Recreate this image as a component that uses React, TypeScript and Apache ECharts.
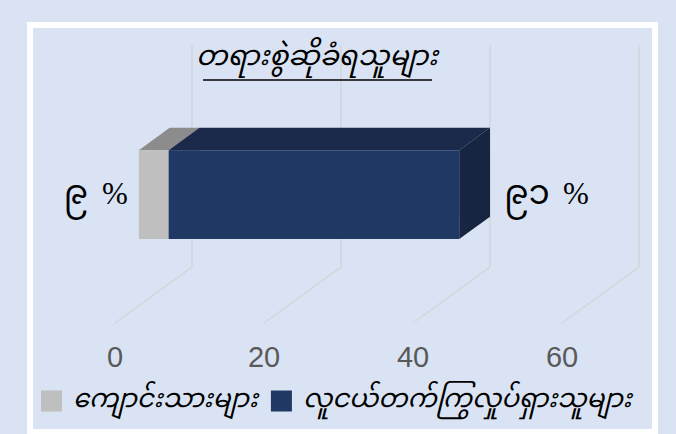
import React, { useEffect, useRef } from 'react';
import * as echarts from 'echarts';

// ---- data ----
const titleText = 'တရားစွဲဆိုခံရသူများ';
const seriesNames = ['ကျောင်းသားများ', 'လူငယ်တက်ကြွလှုပ်ရှားသူများ'];
const seriesValues = [4, 39];
const xTicks = [0, 20, 40, 60];

// ---- style ----
const frontColors = ['#bfbfbf', '#203864'];
const topColors = ['#8c8c8c', '#1b2a4a'];
const sideColors = ['#a6a6a6', '#172541'];
const MY_FONT = '"Noto Sans Myanmar", "Padauk", "Myanmar Text", "Noto Sans", sans-serif';

const MY_DIGITS = '၀၁၂၃၄၅၆၇၈၉';
const toMy = (n: number) => String(n).replace(/\d/g, (d) => MY_DIGITS[+d]);

const DEPTH = [77, -56];
const BAR_FRONT = 0.31;
const BAR_BACK = 0.71;
const BAR_RATIO = 0.4;

export default function App() {
  const ref = useRef<HTMLDivElement>(null);
  useEffect(() => {
    const chart = echarts.init(ref.current!, undefined, { renderer: 'svg' });
    const total = seriesValues.reduce((a, b) => a + b, 0);
    const percents = seriesValues.map((v) => Math.round((v / total) * 100));
    const starts: number[] = [];
    let acc = 0;
    seriesValues.forEach((v) => {
      starts.push(acc);
      acc += v;
    });

    const gridSeries = {
      type: 'custom',
      name: '__grid',
      silent: true,
      coordinateSystem: 'cartesian2d',
      data: xTicks.map((t) => [t, 0]),
      encode: { x: 0, y: 1 },
      z: 1,
      renderItem: (params: any, api: any) => {
        const cs = params.coordSys;
        const x = api.coord([api.value(0), 0])[0];
        const yf = cs.y + cs.height;
        const yTop = cs.y + DEPTH[1];
        return {
          type: 'polyline',
          shape: {
            points: [
              [x, yf],
              [x + DEPTH[0], yf + DEPTH[1]],
              [x + DEPTH[0], yTop],
            ],
          },
          style: { stroke: '#d4d6d9', lineWidth: 1.5, fill: 'none' },
        };
      },
    };

    const barSeries = seriesNames.map((name, i) => ({
      type: 'custom',
      name,
      coordinateSystem: 'cartesian2d',
      data: [[starts[i], starts[i] + seriesValues[i], 0, percents[i]]],
      encode: { x: [0, 1], y: 2 },
      itemStyle: { color: frontColors[i] },
      z: 2 + i,
      renderItem: (params: any, api: any) => {
        const s = api.coord([api.value(0), 0]);
        const e = api.coord([api.value(1), 0]);
        const band = api.size([0, 1])[1];
        const h = band * BAR_RATIO;
        const fdx = DEPTH[0] * BAR_FRONT;
        const fdy = DEPTH[1] * BAR_FRONT;
        const bdx = DEPTH[0] * BAR_BACK;
        const bdy = DEPTH[1] * BAR_BACK;
        const x0 = s[0] + fdx;
        const x1 = e[0] + fdx;
        const yc = s[1] + fdy;
        const yt = yc - h / 2;
        const yb = yc + h / 2;
        const ddx = bdx - fdx;
        const ddy = bdy - fdy;
        const children: any[] = [
          {
            type: 'polygon',
            shape: { points: [[x1, yt], [x1 + ddx, yt + ddy], [x1 + ddx, yb + ddy], [x1, yb]] },
            style: { fill: sideColors[i] },
          },
          {
            type: 'polygon',
            shape: { points: [[x0, yt], [x1, yt], [x1 + ddx, yt + ddy], [x0 + ddx, yt + ddy]] },
            style: { fill: topColors[i] },
          },
          {
            type: 'rect',
            shape: { x: x0, y: yt, width: x1 - x0, height: h },
            style: { fill: frontColors[i] },
          },
        ];
        const pct = api.value(3);
        const numText = toMy(pct);
        const numStyle = { font: `34px ${MY_FONT}`, fill: '#000' };
        const pctStyle = { font: '31px "Liberation Serif", "Times New Roman", serif', fill: '#000' };
        if (i === 0) {
          children.push(
            {
              type: 'text',
              style: { ...pctStyle, text: '%', x: x0 - 11, y: yc - 1, align: 'right', verticalAlign: 'middle' },
            },
            {
              type: 'text',
              style: { ...numStyle, text: numText, x: x0 - 11 - 40, y: yc + 1, align: 'right', verticalAlign: 'middle' },
            }
          );
        }
        if (i === seriesNames.length - 1) {
          const lx = x1 + ddx + 14;
          children.push(
            {
              type: 'text',
              style: { ...numStyle, text: numText, x: lx, y: yc + 1, align: 'left', verticalAlign: 'middle' },
            },
            {
              type: 'text',
              style: { ...pctStyle, text: '%', x: lx + 59, y: yc - 1, align: 'left', verticalAlign: 'middle' },
            }
          );
        }
        return { type: 'group', children };
      },
    }));

    chart.setOption({
      animation: false,
      backgroundColor: '#dae3f3',
      color: frontColors,
      grid: { left: 115, right: 114, top: 101, bottom: 111 },
      xAxis: {
        type: 'value',
        min: 0,
        max: 60,
        interval: 20,
        axisLine: { show: false },
        axisTick: { show: false },
        splitLine: { show: false },
        axisLabel: {
          color: '#595959',
          fontSize: 29,
          fontFamily: '"Liberation Sans", Arial, sans-serif',
          margin: 19,
        },
      },
      yAxis: {
        type: 'category',
        data: [''],
        show: false,
      },
      legend: {
        data: seriesNames,
        left: 36,
        top: 383,
        icon: 'rect',
        itemWidth: 21,
        itemHeight: 21,
        itemGap: 13,
        selectedMode: false,
        textStyle: {
          fontSize: 26,
          fontStyle: 'italic',
          color: '#000',
          fontFamily: MY_FONT,
          padding: [0, 0, 0, 6],
        },
      },
      graphic: [
        {
          type: 'rect',
          silent: true,
          z: -10,
          shape: { x: 30, y: 25, width: 625, height: 407 },
          style: { fill: 'none', stroke: '#ffffff', lineWidth: 6 },
        },
        {
          type: 'text',
          x: 317,
          y: 58,
          z: 10,
          style: {
            text: titleText,
            fontSize: 28,
            fontStyle: 'italic',
            fontFamily: MY_FONT,
            fill: '#000',
            align: 'center',
            verticalAlign: 'middle',
          },
        },
        {
          type: 'line',
          z: 10,
          shape: { x1: 203, y1: 80, x2: 432, y2: 80 },
          style: { stroke: '#000', lineWidth: 1.5 },
        },
      ],
      series: [gridSeries, ...barSeries],
    });
    return () => chart.dispose();
  }, []);
  return <div ref={ref} style={{ position: 'absolute', left: 0, top: 0, width: 676, height: 434 }} />;
}
